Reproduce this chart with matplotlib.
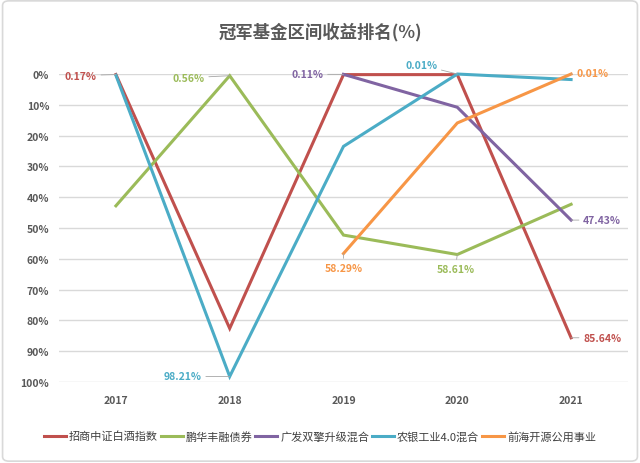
import matplotlib
matplotlib.use("Agg")
import matplotlib.pyplot as plt
from matplotlib.patches import FancyBboxPatch

plt.rcParams['font.family'] = ['Noto Sans CJK SC', 'DejaVu Sans']

years = ['2017', '2018', '2019', '2020', '2021']
series_names = ['招商中证白酒指数', '鹏华丰融债券', '广发双擎升级混合', '农银工业4.0混合', '前海开源公用事业']
zhaoshang = [0.17, 82.6, 0.2, 0.2, 85.64]
penghua = [42.8, 0.56, 52.3, 58.61, 42.3]
guangfa = [None, None, 0.11, 10.8, 47.43]
nongyin = [0.4, 98.21, 23.5, 0.01, 1.8]
qianhai = [None, None, 58.29, 15.9, 0.01]
all_series = [zhaoshang, penghua, guangfa, nongyin, qianhai]
colors = ['#C0504D', '#9BBB59', '#8064A2', '#4BACC6', '#F79646']
yticks = [0, 10, 20, 30, 40, 50, 60, 70, 80, 90, 100]

# labelled points: (series index, year index, text)
labels = [(0, 0, '0.17%'), (1, 1, '0.56%'), (2, 2, '0.11%'), (3, 3, '0.01%'),
          (4, 4, '0.01%'), (2, 4, '47.43%'), (4, 2, '58.29%'), (1, 3, '58.61%'),
          (3, 1, '98.21%'), (0, 4, '85.64%')]
# style: offset in pixels and alignment
label_style = [((-19, -1), 'right'), ((-25, -2), 'right'), ((-20, 0), 'right'),
               ((-20, 9), 'right'), ((5, 1), 'left'), ((12, 0), 'left'),
               ((0, -14), 'center'), ((-2, -14), 'center'), ((-28, 0), 'right'),
               ((12, 0), 'left')]

fig = plt.figure(figsize=(6.4, 4.64), dpi=100)
fig.patch.set_facecolor('white')
border = FancyBboxPatch((0.004, 0.004), 0.992, 0.992, boxstyle='round,pad=0,rounding_size=0.01',
                        transform=fig.transFigure, facecolor='none', edgecolor='#D9D9D9', lw=1.2)
fig.patches.append(border)

ax = fig.add_axes([59/640, 1-383/464, 569/640, 308/464])
x = list(range(len(years)))
for name, vals, c in zip(series_names, all_series, colors):
    xs = [i for i, v in zip(x, vals) if v is not None]
    ys = [v for v in vals if v is not None]
    ax.plot(xs, ys, color=c, lw=2.2, label=name, clip_on=False, solid_joinstyle='miter')

ax.set_xlim(-0.5, len(years)-0.5)
ax.set_ylim(100, 0)
ax.set_yticks(yticks)
ax.set_yticklabels([f'{v}%' for v in yticks])
ax.set_xticks(x)
ax.set_xticklabels(years)
ax.grid(axis='y', color='#D9D9D9', lw=1)
ax.set_axisbelow(True)
for s in ax.spines.values():
    s.set_visible(False)
ax.tick_params(axis='both', length=0, colors='#595959', labelsize=7.5)
ax.tick_params(axis='y', pad=7)
ax.tick_params(axis='x', pad=9)
for t in ax.get_xticklabels() + ax.get_yticklabels():
    t.set_fontweight('bold')

for (si, yi, txt), ((dx, dy), ha) in zip(labels, label_style):
    ax.annotate(txt, xy=(yi, all_series[si][yi]), xytext=(dx, dy), textcoords='offset pixels',
                ha=ha, va='center', color=colors[si], fontsize=7.5, fontweight='bold',
                arrowprops=dict(arrowstyle='-', color='#A6A6A6', lw=0.6, shrinkA=1, shrinkB=0),
                annotation_clip=False)

fig.text(0.5, 1-32/464, '冠军基金区间收益排名(%)', ha='center', va='center',
         fontsize=12.5, fontweight='bold', color='#595959')

leg = fig.legend(loc='center', bbox_to_anchor=(0.5, 1-437/464), ncol=5, frameon=False,
                 fontsize=8, handlelength=2.0, handletextpad=0.25, columnspacing=0.25)
for t in leg.get_texts():
    t.set_color('#404040')

fig.savefig('out.png', dpi=100)
